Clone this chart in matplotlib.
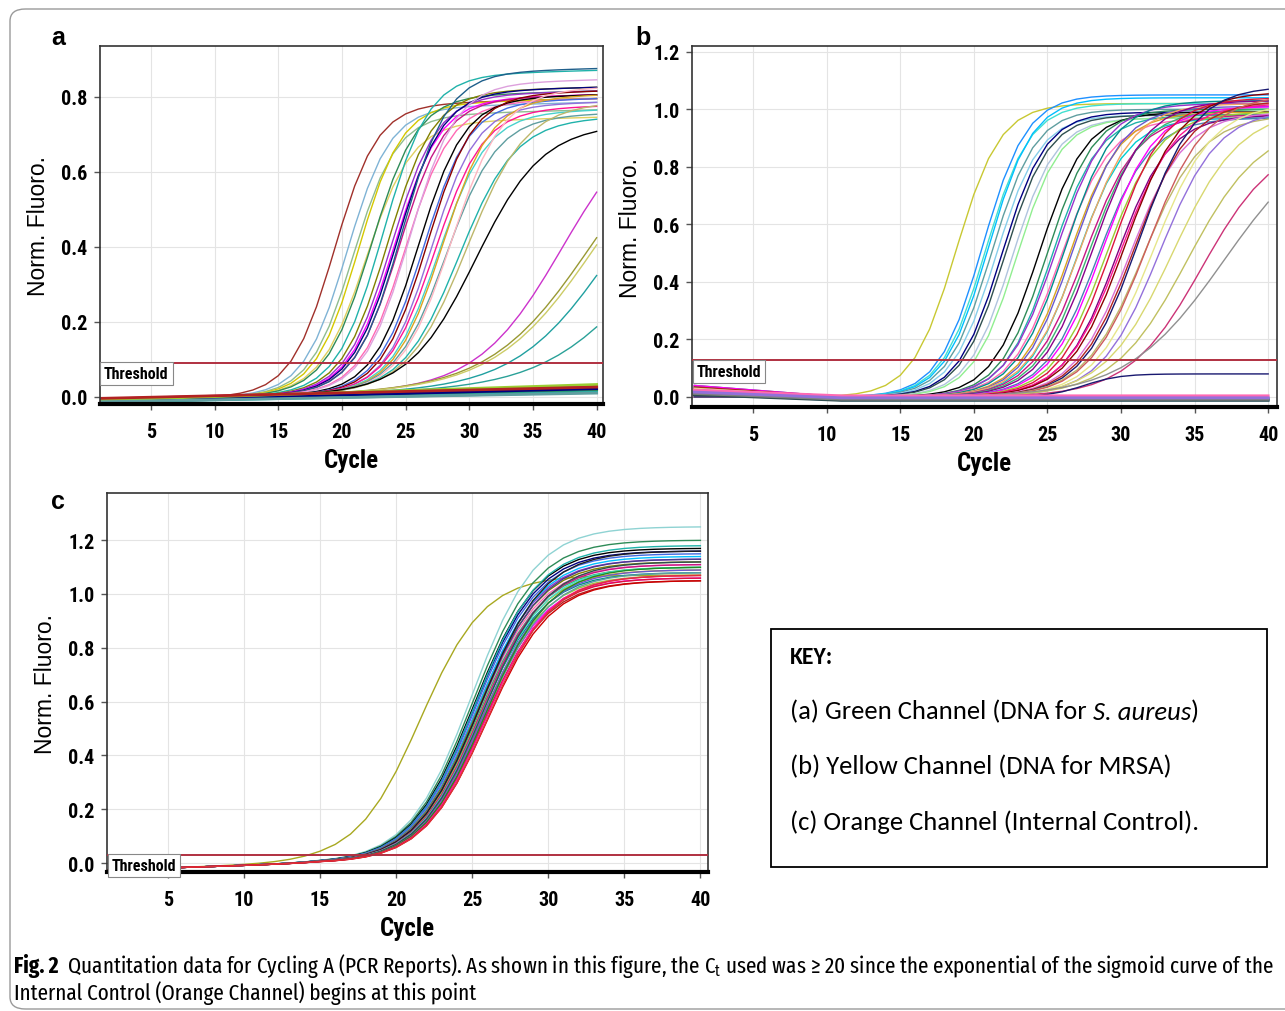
import numpy as np
import matplotlib.pyplot as plt
from matplotlib.patches import FancyBboxPatch, Rectangle

W, H = 1285, 1012
NARROW = ['Roboto Condensed', 'DejaVu Sans']
ARIAL = ['Liberation Sans', 'DejaVu Sans']
KEYFONT = ['Carlito', 'DejaVu Sans']
CAPFONT = ['Fira Sans Extra Condensed', 'DejaVu Sans']

cycles = np.arange(1, 41)

# ---- panel a (Green channel): midpoint, plateau, steepness of each amplification curve
a_mid = [19.4, 20.4, 20.9, 21.3, 21.9, 22.3, 23.2, 23.6, 23.9, 24.1, 24.3, 24.5, 24.7, 25.0, 25.3,
         26.0, 26.4, 26.7, 27.0, 27.3, 27.6, 27.9, 28.2, 28.6, 29.2, 29.8, 30.5, 37.3, 39.5, 39.9, 41.1, 44.0]
a_plat = [0.77, 0.76, 0.74, 0.77, 0.72, 0.79, 0.845, 0.80, 0.79, 0.78, 0.80, 0.78, 0.85, 0.77, 0.82,
          0.78, 0.77, 0.79, 0.76, 0.75, 0.74, 0.78, 0.73, 0.80, 0.72, 0.76, 0.70, 0.75, 0.75, 0.75, 0.70, 0.60]
a_slope = [1.7, 1.7, 1.7, 1.7, 1.8, 1.8, 1.8, 1.8, 1.8, 1.8, 1.8, 1.8, 1.8, 1.8, 1.8,
           1.8, 1.8, 1.8, 1.8, 1.9, 1.9, 1.9, 2.0, 2.0, 2.2, 2.3, 2.6, 3.3, 3.9, 3.9, 3.7, 4.0]
a_colors = ['#a0302a', '#7fb3d5', '#8fbc8f', '#d4c800', '#e0d060', '#2e8b57', '#20b2aa', '#808000',
            '#9932cc', '#ff00ff', '#000080', '#c71585', '#1f5f8b', '#ff69b4', '#dda0dd', '#000000',
            '#4169e1', '#8b0000', '#9370db', '#ff1493', '#48d1cc', '#daa520', '#5f9ea0', '#ffb6c1',
            '#20b2aa', '#bdb76b', '#000000', '#cc33cc', '#999933', '#cccc66', '#20a0a0', '#2aa198']
# negatives in panel a: value at cycle 1 and at cycle 40
a_neg_start = [-0.015, -0.012, -0.010, -0.008, -0.014, -0.006, -0.011, -0.009, -0.013, -0.004]
a_neg_end = [0.020, 0.025, 0.030, 0.018, 0.012, 0.028, 0.022, 0.033, 0.010, 0.026]
a_neg_colors = ['#dc143c', '#4682b4', '#808080', '#2e8b57', '#20b2aa', '#c71585', '#000080',
                '#9acd32', '#5f9ea0', '#b22222']

# ---- panel b (Yellow channel)
b_mid = [18.8, 20.6, 20.8, 21.0, 21.2, 21.5, 21.9, 22.1, 22.6, 22.9, 24.4,
         25.0, 25.3, 25.6, 25.9, 26.2, 26.5, 26.7, 27.0, 27.2, 27.5, 27.8, 28.1, 28.4, 28.7, 29.0,
         29.4, 29.7, 30.0, 30.3, 30.6, 30.9, 31.2, 31.5, 31.8, 32.2, 32.6, 33.5, 34.5, 35.5, 37.0, 27.5]
b_plat = [1.02, 1.05, 1.02, 1.04, 1.00, 0.98, 0.99, 0.98, 0.97, 0.97, 0.99,
          1.00, 0.98, 1.02, 0.97, 1.03, 0.99, 1.01, 0.97, 1.02, 0.98, 1.00, 1.03, 0.97, 1.01, 0.99,
          1.04, 0.98, 1.02, 1.06, 0.99, 1.03, 1.08, 0.98, 1.05, 1.02, 1.00, 1.00, 0.95, 0.90, 0.95, 0.08]
b_slope = [1.5, 1.5, 1.5, 1.5, 1.5, 1.5, 1.5, 1.5, 1.5, 1.5, 1.6,
           1.6, 1.6, 1.7, 1.7, 1.7, 1.7, 1.7, 1.7, 1.8, 1.8, 1.8, 1.8, 1.8, 1.8, 1.8,
           1.8, 1.8, 1.9, 1.9, 1.9, 1.9, 1.9, 2.0, 2.0, 2.0, 2.0, 2.3, 2.5, 2.5, 3.3, 1.2]
b_start = [0.010, 0.020, 0.005, 0.030, 0.015, 0.000, 0.025, 0.010, 0.035, 0.005, 0.020,
           0.040, 0.010, 0.030, 0.000, 0.020, 0.015, 0.035, 0.005, 0.025, 0.010, 0.030, 0.000, 0.020,
           0.040, 0.010, 0.015, 0.030, 0.005, 0.025, 0.000, 0.035, 0.010, 0.020, 0.005, 0.030, 0.015,
           0.000, 0.025, 0.010, 0.005, 0.000]
b_colors = ['#c8c832', '#1e90ff', '#40e0d0', '#00bfff', '#5f9ea0', '#87ceeb', '#000080', '#2f4f4f',
            '#b0c4de', '#90ee90', '#000000', '#2e8b57', '#20b2aa', '#9932cc', '#ff69b4', '#008b8b',
            '#daa520', '#6a5acd', '#00ced1', '#f4a460', '#c71585', '#3cb371', '#8b008b', '#4682b4',
            '#ff00ff', '#9acd32', '#dc143c', '#800080', '#ff1493', '#8b0000', '#da70d6', '#b22222',
            '#191970', '#bdb76b', '#cd5c5c', '#e6e68a', '#9370db', '#d8d870', '#c0c060', '#cc3377',
            '#909090', '#191970']
b_neg_level = [-0.005, -0.010, -0.012, 0.004, -0.008, -0.003]
b_neg_colors = ['#4682b4', '#1e90ff', '#2f4f4f', '#ff69b4', '#808080', '#9370db']

# ---- panel c (Orange channel, internal control)
c_mid = [21.6, 25.0, 25.05, 25.1, 25.15, 25.2, 25.2, 25.25, 25.3, 25.3, 25.35, 25.4, 25.4, 25.45,
         25.5, 25.5, 25.55, 25.6, 25.6, 25.65, 25.7, 25.7, 25.75, 25.8, 25.8, 25.85, 25.9, 25.95, 26.0]
c_plat = [1.07, 1.25, 1.20, 1.17, 1.16, 1.18, 1.15, 1.13, 1.14, 1.12, 1.11, 1.10, 1.13, 1.09,
          1.08, 1.16, 1.11, 1.07, 1.10, 1.06, 1.09, 1.12, 1.05, 1.08, 1.06, 1.10, 1.07, 1.05, 1.07]
c_colors = ['#a8a820', '#8fd3d3', '#2e8b57', '#000000', '#000080', '#20b2aa', '#4169e1', '#9932cc',
            '#00bfff', '#808000', '#ff69b4', '#3cb371', '#483d8b', '#daa520', '#008b8b', '#1e1e1e',
            '#c71585', '#9acd32', '#40e0d0', '#ff00ff', '#6a5acd', '#2f4f4f', '#b22222', '#5f9ea0',
            '#dc143c', '#228b22', '#ff1493', '#cc0000', '#e0303a']
c_slope = 2.1

thresholds = [0.09, 0.13, 0.03]

key_lines = [[('(a) Green Channel (DNA for ', 'normal', 'normal'), ('S. aureus', 'italic', 'normal'),
              (')', 'normal', 'normal')],
             [('(b) Yellow Channel (DNA for MRSA)', 'normal', 'normal')],
             [('(c) Orange Channel (Internal Control).', 'normal', 'normal')]]
caption1 = [('Fig. 2', 'normal', 'bold'),
            ('  Quantitation data for Cycling A (PCR Reports). As shown in this figure, the C$_\\mathregular{t}$ '
             'used was \u2265 20 since the exponential of the sigmoid curve of the', 'normal', 'normal')]
caption2 = [('Internal Control (Orange Channel) begins at this point', 'normal', 'normal')]


def sig(mid, plat, s):
    return plat / (1 + np.exp(-(cycles - mid) / s))


def px_axes(fig, l, t, r, b):
    return fig.add_axes([l / W, 1 - b / H, (r - l) / W, (b - t) / H])


def style(ax, xlim, ylim, yticks, thr, lab_y):
    ax.set_xlim(*xlim)
    ax.set_ylim(*ylim)
    ax.set_xticks([5, 10, 15, 20, 25, 30, 35, 40])
    ax.set_yticks(yticks)
    ax.set_yticklabels(['%.1f' % v for v in yticks])
    ax.grid(True, color='#e4e4e4', lw=0.8)
    ax.set_axisbelow(True)
    for lbl in ax.get_xticklabels() + ax.get_yticklabels():
        lbl.set_family(NARROW)
        lbl.set_fontweight('bold')
        lbl.set_fontsize(14.5)
    ax.tick_params(length=4, width=1, color='#555555')
    ax.tick_params(axis='x', pad=9)
    ax.tick_params(axis='y', pad=5)
    ax.spines['bottom'].set_linewidth(3)
    ax.spines['bottom'].set_color('black')
    for sp in ['left', 'top', 'right']:
        ax.spines[sp].set_linewidth(1.2)
        ax.spines[sp].set_color('#333333')
    ax.set_xlabel('Cycle', family=NARROW, fontweight='bold', fontsize=18, labelpad=5)
    ax.set_ylabel('Norm. Fluoro.', family=ARIAL, fontsize=16.5, labelpad=8)
    ax.axhline(thr, color='#b03040', lw=1.4, zorder=5)
    ax.text(0.008, lab_y, 'Threshold', transform=ax.get_yaxis_transform(), va='top', ha='left',
            family=NARROW, fontweight='bold', fontsize=11.5, zorder=6, clip_on=False,
            bbox=dict(boxstyle='square,pad=0.25', fc='white', ec='#888888', lw=0.8))


fig = plt.figure(figsize=(W / 100, H / 100), dpi=100)
renderer = fig.canvas.get_renderer()

# outer frame
fig.patches.append(FancyBboxPatch((10 / W, 2 / H), 1320 / W, 1 - 12 / H,
                                  boxstyle='round,pad=0,rounding_size=0.012',
                                  transform=fig.transFigure, fc='none', ec='#9a9a9a', lw=1.0))

# panel a
axa = px_axes(fig, 100, 47, 603, 405)
for m, p, s, c in zip(a_mid, a_plat, a_slope, a_colors):
    base = -0.01 + 0.0009 * (cycles - 1)
    axa.plot(cycles, base + sig(m, p, s), color=c, lw=1.0)
for y0, y1, c in zip(a_neg_start, a_neg_end, a_neg_colors):
    axa.plot(cycles, y0 + (y1 - y0) * (cycles - 1) / 39, color=c, lw=2.0)
style(axa, (1, 40.5), (-0.019, 0.935), [0.0, 0.2, 0.4, 0.6, 0.8], thresholds[0], 0.082)

# panel b
axb = px_axes(fig, 692, 47, 1277, 408)
for m, p, s, b0, c in zip(b_mid, b_plat, b_slope, b_start, b_colors):
    base = b0 * np.clip((11 - cycles) / 10, 0, None)
    axb.plot(cycles, base + sig(m, p, s), color=c, lw=1.0)
for lv, c in zip(b_neg_level, b_neg_colors):
    axb.plot(cycles, lv + 0.02 * np.clip((11 - cycles) / 10, 0, None), color=c, lw=2.0)
style(axb, (0.85, 40.6), (-0.035, 1.22), [0.0, 0.2, 0.4, 0.6, 0.8, 1.0, 1.2], thresholds[1], 0.115)

# panel c
axc = px_axes(fig, 107, 494, 708, 873)
for m, p, c in zip(c_mid, c_plat, c_colors):
    base = -0.025 * np.clip((15 - cycles) / 14, 0, None)
    axc.plot(cycles, base + sig(m, p, c_slope), color=c, lw=1.0)
style(axc, (1, 40.5), (-0.033, 1.375), [0.0, 0.2, 0.4, 0.6, 0.8, 1.0, 1.2], thresholds[2], 0.018)

# panel letters
for x, y, t in [(58, 38, 'a'), (643, 38, 'b'), (58, 502, 'c')]:
    fig.text(x / W, 1 - y / H, t, family=ARIAL, fontweight='bold', fontsize=18, ha='center', va='center')


def run_text(x, y, parts, size, fam, draw=True):
    # lay out text pieces one after another, return total width in pixels
    x0 = x
    made = []
    for txt, st, wt in parts:
        t = fig.text(x / W, 1 - y / H, txt, family=fam, fontstyle=st, fontweight=wt,
                     fontsize=size, va='center', ha='left')
        x += t.get_window_extent(renderer).width
        made.append(t)
    if not draw:
        for t in made:
            t.remove()
    return x - x0


def fit_size(parts, width, fam):
    return 10 * width / run_text(0, 0, parts, 10, fam, draw=False)


# key box
fig.patches.append(Rectangle((771 / W, 1 - 868 / H), 496 / W, 238 / H, transform=fig.transFigure,
                             fc='white', ec='black', lw=1.3))
fig.text(790 / W, 1 - 658 / H, 'KEY:', family=KEYFONT, fontweight='bold', fontsize=17, va='center')
ksize = fit_size(key_lines[0], 408, KEYFONT)
for parts, y in zip(key_lines, [712, 767, 822]):
    run_text(790, y, parts, ksize, KEYFONT)

# caption
csize = fit_size(caption1, 1262, CAPFONT)
run_text(14, 966, caption1, csize, CAPFONT)
run_text(14, 993, caption2, csize, CAPFONT)

fig.savefig('out.png', dpi=100)
